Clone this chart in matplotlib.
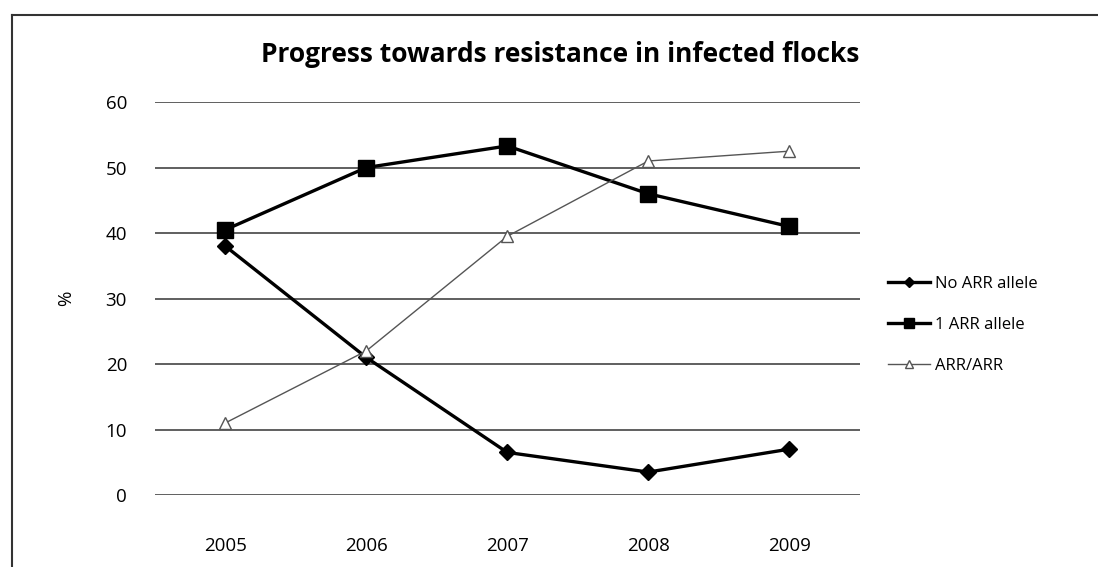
import matplotlib
matplotlib.use("Agg")
import matplotlib.pyplot as plt
from matplotlib.lines import Line2D

years = ["2005", "2006", "2007", "2008", "2009"]
no_arr = [38, 21, 6.5, 3.5, 7]
one_arr = [40.5, 50, 53.3, 46, 41]
arr_arr = [11, 22, 39.5, 51, 52.5]
yticks = [0, 10, 20, 30, 40, 50, 60]

plt.rcParams['font.family'] = ['Open Sans', 'DejaVu Sans']

fig = plt.figure(figsize=(10.98, 5.67), dpi=100)
ax = fig.add_axes([0.141, 0.127, 0.642, 0.693])
x = list(range(len(years)))

ax.plot(x, no_arr, color='black', lw=2.4, marker='D', ms=8, label='No ARR allele', zorder=3)
ax.plot(x, one_arr, color='black', lw=2.4, marker='s', ms=11, label='1 ARR allele', zorder=3)
ax.plot(x, arr_arr, color='#555555', lw=1.0, marker='^', ms=8, mfc='white', mec='#555555',
        label='ARR/ARR', zorder=3)

ax.set_xlim(-0.5, 4.5)
ax.set_ylim(0, 60)
ax.set_yticks(yticks)
ax.set_xticks(x)
ax.set_xticklabels(years, fontsize=13.5)
ax.tick_params(axis='y', labelsize=13.5, length=0, pad=20)
ax.tick_params(axis='x', length=0, pad=30)
ax.grid(axis='y', color='#444444', lw=1.2)
ax.set_axisbelow(True)
for s in ax.spines.values():
    s.set_visible(False)
ax.set_ylabel('%', fontsize=13.5, labelpad=22)

fig.text(0.51, 0.903, 'Progress towards resistance in infected flocks', fontsize=19,
         fontweight='bold', ha='center', va='center')

leg = fig.legend(*ax.get_legend_handles_labels(), loc='center left',
                 bbox_to_anchor=(888 / 1098, 1 - 325 / 567), bbox_transform=fig.transFigure,
                 frameon=False, fontsize=12, handlelength=2.5, handletextpad=0.3,
                 labelspacing=1.5, borderpad=0, borderaxespad=0, markerscale=0.7)

# partial chart border (top and left edges visible in the scan)
fig.add_artist(Line2D([12 / 1098, 1.0], [1 - 15 / 567, 1 - 15 / 567], transform=fig.transFigure,
                      color='#333333', lw=1.5))
fig.add_artist(Line2D([12 / 1098, 12 / 1098], [0.0, 1 - 15 / 567], transform=fig.transFigure,
                      color='#333333', lw=1.5))

fig.savefig('out.png', dpi=100)
